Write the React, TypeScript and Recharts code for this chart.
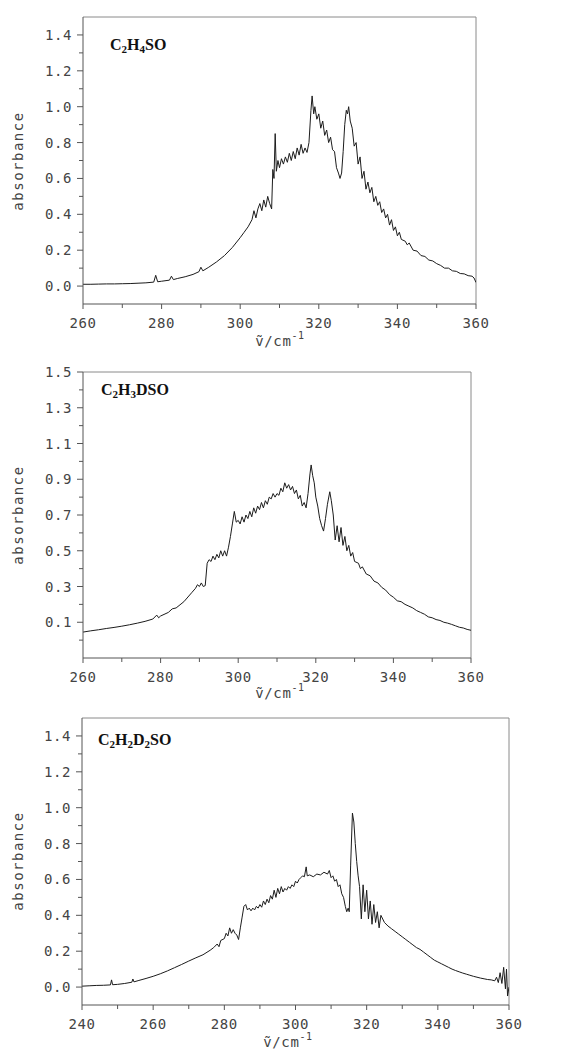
import { LineChart, Line, XAxis, YAxis, ReferenceLine } from 'recharts';

// C2H4SO spectrum
const wn1 = [
  260, 262, 264, 266, 268, 270, 272, 274, 276, 278, 278.5, 279, 280, 282, 282.5, 283, 284, 286, 288, 289.5,
  290, 290.5, 292, 294, 296, 298, 300, 301, 302, 303, 303.5, 304, 304.5, 305, 305.5, 306, 306.5, 307, 307.5, 308,
  308.3, 308.6, 308.9, 309.2, 309.6, 310, 310.5, 311, 311.5, 312, 312.5, 313, 313.5, 314, 314.5, 315, 315.5, 316, 316.5, 317,
  317.5, 318, 318.3, 318.7, 319, 319.5, 320, 320.5, 321, 321.5, 322, 322.5, 323, 323.5, 324, 324.5, 325, 325.4, 325.8, 326.2,
  326.6, 327, 327.3, 327.6, 328, 328.5, 329, 329.5, 330, 330.5, 331, 331.5, 332, 332.5, 333, 333.5, 334, 334.5, 335, 335.5,
  336, 336.5, 337, 337.5, 338, 338.5, 339, 339.5, 340, 340.5, 341, 342, 342.5, 343, 344, 345, 346, 347, 348, 349,
  350, 351, 352, 353, 354, 355, 356, 357, 358, 359, 359.5, 360,
];
const abs1 = [
  0.01, 0.01, 0.011, 0.012, 0.012, 0.013, 0.014, 0.016, 0.018, 0.022, 0.06, 0.024, 0.027, 0.033, 0.055, 0.036, 0.042, 0.052, 0.065, 0.08,
  0.105, 0.085, 0.105, 0.135, 0.17, 0.215, 0.27, 0.3, 0.33, 0.37, 0.42, 0.38, 0.43, 0.46, 0.42, 0.48, 0.44, 0.5, 0.46, 0.43,
  0.65, 0.6, 0.85, 0.64, 0.7, 0.66, 0.71, 0.68, 0.72, 0.69, 0.74, 0.7, 0.75, 0.71, 0.77, 0.73, 0.79, 0.74, 0.77, 0.745,
  0.8, 0.98, 1.06, 0.96, 1.0, 0.93, 0.96, 0.88, 0.92, 0.84, 0.87, 0.8, 0.83, 0.76, 0.75, 0.66, 0.63, 0.6, 0.63, 0.75,
  0.9, 0.98, 0.96, 1.0, 0.92, 0.88, 0.78, 0.8, 0.68, 0.72, 0.6, 0.64, 0.54, 0.58, 0.52, 0.55, 0.47, 0.5, 0.45, 0.47,
  0.41, 0.43, 0.38, 0.4, 0.34, 0.37, 0.31, 0.33, 0.28, 0.3, 0.26, 0.25, 0.23, 0.24, 0.2, 0.195, 0.17, 0.165, 0.145, 0.14,
  0.125, 0.115, 0.1, 0.1, 0.085, 0.082, 0.07, 0.068, 0.058, 0.055, 0.045, 0.02,
];

// C2H3DSO spectrum
const wn2 = [
  260, 262, 264, 266, 268, 270, 272, 274, 276, 278, 279, 279.5, 280, 282, 283, 284, 286, 288, 289, 289.5,
  290, 290.5, 291, 291.5, 292, 292.5, 293, 293.5, 294, 294.5, 295, 295.5, 296, 296.5, 297, 297.5, 298, 298.5, 299, 299.5,
  300, 300.5, 301, 301.5, 302, 302.5, 303, 303.5, 304, 304.5, 305, 305.5, 306, 306.5, 307, 307.5, 308, 308.5, 309, 309.5,
  310, 310.5, 311, 311.5, 312, 312.5, 313, 313.5, 314, 314.5, 315, 315.5, 316, 316.5, 317, 317.5, 318, 318.5, 318.8, 319.2,
  319.6, 320, 320.5, 321, 321.5, 322, 322.5, 323, 323.6, 324, 324.5, 325, 325.5, 326, 326.5, 327, 327.5, 328, 328.5, 329,
  329.5, 330, 331, 331.5, 332, 333, 334, 335, 336, 337, 338, 339, 340, 341, 342, 343, 344, 345, 346, 347,
  348, 349, 350, 351, 352, 353, 354, 355, 356, 357, 358, 359, 360,
];
const abs2 = [
  0.045, 0.052, 0.058, 0.065, 0.071, 0.078, 0.086, 0.095, 0.105, 0.118, 0.14, 0.125, 0.135, 0.155, 0.175, 0.18, 0.215, 0.265, 0.29, 0.31,
  0.3, 0.32, 0.3, 0.305, 0.43, 0.45, 0.44, 0.47, 0.45, 0.48, 0.46, 0.5, 0.47, 0.5, 0.47, 0.52, 0.58, 0.65, 0.72, 0.66,
  0.67, 0.65, 0.69, 0.66, 0.7, 0.68, 0.72, 0.69, 0.74, 0.71, 0.75, 0.73, 0.77, 0.74, 0.78, 0.76, 0.8, 0.79, 0.82, 0.8,
  0.82, 0.81, 0.85, 0.83, 0.88, 0.85, 0.87, 0.84, 0.86, 0.82, 0.84, 0.79, 0.81, 0.75, 0.77, 0.74, 0.82, 0.93, 0.98, 0.92,
  0.88, 0.8, 0.75, 0.68, 0.64, 0.61, 0.68, 0.76, 0.83, 0.78, 0.7, 0.56, 0.64, 0.55, 0.63, 0.53, 0.58, 0.5, 0.53, 0.47,
  0.49, 0.44, 0.43, 0.4, 0.41, 0.37, 0.36, 0.33, 0.32, 0.295, 0.28, 0.255, 0.24, 0.22, 0.215, 0.2, 0.19, 0.18, 0.165, 0.155,
  0.145, 0.13, 0.125, 0.115, 0.11, 0.1, 0.095, 0.088, 0.08, 0.072, 0.068, 0.06, 0.055,
];

// C2H2D2SO spectrum
const wn3 = [
  240, 242, 244, 246, 248, 248.3, 248.6, 250, 252, 254, 254.3, 254.6, 256, 258, 260, 262, 264, 266, 268, 270,
  272, 274, 276, 277, 278, 278.5, 279, 280, 280.5, 281, 281.5, 282, 282.5, 283, 283.5, 284, 284.5, 285, 285.5, 286,
  286.5, 287, 287.5, 288, 288.5, 289, 289.5, 290, 290.5, 291, 291.5, 292, 292.5, 293, 293.5, 294, 294.5, 295, 295.5, 296,
  296.5, 297, 297.5, 298, 298.5, 299, 299.5, 300, 300.5, 301, 301.5, 302, 302.5, 303, 303.3, 304, 305, 306, 307, 308,
  309, 309.5, 310, 310.5, 311, 311.5, 312, 312.5, 313, 313.5, 314, 314.4, 314.8, 315.1, 315.5, 316, 316.4, 316.8, 317.2, 317.6,
  318, 318.5, 319, 319.5, 320, 320.5, 321, 321.5, 322, 322.5, 323, 323.5, 324, 325, 326, 327, 328, 329, 330, 331,
  332, 333, 334, 335, 336, 337, 338, 339, 340, 341, 342, 343, 344, 345, 346, 347, 348, 349, 350, 351,
  352, 353, 354, 355, 356, 356.5, 357, 357.5, 358, 358.5, 359, 359.3, 359.6, 360,
];
const abs3 = [
  0.005, 0.007, 0.009, 0.01, 0.012, 0.04, 0.013, 0.015, 0.02, 0.027, 0.045, 0.029, 0.037, 0.048, 0.06, 0.074, 0.09, 0.108, 0.126, 0.145,
  0.163, 0.18, 0.205, 0.22, 0.24, 0.225, 0.26, 0.27, 0.3, 0.285, 0.33, 0.3, 0.32, 0.3, 0.29, 0.265, 0.33, 0.39, 0.45, 0.46,
  0.43, 0.44, 0.425, 0.44, 0.43, 0.45, 0.44, 0.46, 0.445, 0.48, 0.46, 0.49, 0.47, 0.51, 0.49, 0.54, 0.5, 0.55, 0.52, 0.56,
  0.53, 0.55, 0.54, 0.56, 0.55, 0.57, 0.56, 0.59, 0.58, 0.6, 0.61, 0.62, 0.615, 0.67, 0.62, 0.625, 0.615, 0.63, 0.625, 0.64,
  0.63, 0.65, 0.61, 0.62, 0.59, 0.6, 0.56, 0.57, 0.52, 0.5, 0.45, 0.42, 0.44, 0.42, 0.68, 0.97, 0.92, 0.8, 0.7, 0.62,
  0.56, 0.38, 0.57, 0.42, 0.54, 0.38, 0.48, 0.35, 0.46, 0.36, 0.42, 0.33, 0.4, 0.36, 0.34, 0.325, 0.31, 0.295, 0.28, 0.265,
  0.25, 0.235, 0.22, 0.21, 0.195, 0.18, 0.165, 0.15, 0.14, 0.13, 0.12, 0.11, 0.1, 0.092, 0.085, 0.078, 0.072, 0.066, 0.06, 0.055,
  0.05, 0.046, 0.042, 0.04, 0.035, 0.055, 0.025, 0.08, 0.02, 0.11, -0.01, 0.1, -0.05, 0,
];

const xTicks1 = [260, 270, 280, 290, 300, 310, 320, 330, 340, 350, 360];
const xLabels1 = [260, 280, 300, 320, 340, 360];
const xTicks3 = [240, 250, 260, 270, 280, 290, 300, 310, 320, 330, 340, 350, 360];
const xLabels3 = [240, 260, 280, 300, 320, 340, 360];
const yTicks = [0, 0.1, 0.2, 0.3, 0.4, 0.5, 0.6, 0.7, 0.8, 0.9, 1.0, 1.1, 1.2, 1.3, 1.4];
const yLabelsEven = [0, 0.2, 0.4, 0.6, 0.8, 1.0, 1.2, 1.4];
const yTicks2 = [0, 0.1, 0.2, 0.3, 0.4, 0.5, 0.6, 0.7, 0.8, 0.9, 1.0, 1.1, 1.2, 1.3, 1.4, 1.5];
const yLabelsOdd = [0.1, 0.3, 0.5, 0.7, 0.9, 1.1, 1.3, 1.5];

const MONO = '"DejaVu Sans Mono", monospace';
const has = (list: number[], v: number) => list.some((t) => Math.abs(t - v) < 1e-6);

const makeXTick = (labels: number[]) => (props: any) => {
  const { x, y, payload } = props;
  const major = has(labels, payload.value);
  return (
    <g>
      <line x1={x} x2={x} y1={y} y2={y + (major ? 5 : 4)} stroke="#555" />
      {major && (
        <text x={x} y={y + 24} textAnchor="middle" fontFamily={MONO} fontSize={14} letterSpacing={0.6} fill="#444">
          {payload.value}
        </text>
      )}
    </g>
  );
};

const makeYTick = (labels: number[]) => (props: any) => {
  const { x, y, payload } = props;
  const major = has(labels, payload.value);
  return (
    <g>
      <line x1={x - (major ? 6 : 4)} x2={x} y1={y} y2={y} stroke="#555" />
      {major && (
        <text x={x - 11} y={y + 5} textAnchor="end" fontFamily={MONO} fontSize={14} letterSpacing={0.6} fill="#444">
          {payload.value.toFixed(1)}
        </text>
      )}
    </g>
  );
};

const Panel = ({ top, height, margin, xs, ys, xDomain, xTicks, xLabels, yT, yLabels }: any) => {
  const data = xs.map((x: number, i: number) => ({ x, y: ys[i] }));
  return (
    <div style={{ position: 'absolute', left: 0, top }}>
      <LineChart width={585} height={height} data={data} margin={margin}>
        <XAxis
          type="number"
          dataKey="x"
          domain={xDomain}
          ticks={xTicks}
          interval={0}
          allowDataOverflow
          height={30}
          tickSize={0}
          tickMargin={0}
          tickLine={false}
          axisLine={{ stroke: '#555' }}
          tick={makeXTick(xLabels)}
        />
        <YAxis
          type="number"
          dataKey="y"
          domain={[-0.1, 1.5]}
          ticks={yT}
          interval={0}
          allowDataOverflow
          width={60}
          tickSize={0}
          tickMargin={0}
          tickLine={false}
          axisLine={{ stroke: '#555' }}
          tick={makeYTick(yLabels)}
        />
        <ReferenceLine y={1.5} stroke="#8a8a8a" />
        <ReferenceLine x={xDomain[1]} stroke="#8a8a8a" />
        <Line
          type="linear"
          dataKey="y"
          stroke="#1c1c1c"
          strokeWidth={1}
          dot={false}
          isAnimationActive={false}
        />
      </LineChart>
    </div>
  );
};

const Formula = ({ x, y, parts }: { x: number; y: number; parts: [string, string][] }) => (
  <text x={x} y={y} fontFamily='"Liberation Serif", serif' fontWeight="bold" fontSize={16} fill="#111">
    {parts.map(([main, sub], i) => (
      <tspan key={i}>
        <tspan dy={i > 0 && parts[i - 1][1] ? -3 : 0}>{main}</tspan>
        {sub && (
          <tspan fontSize={11} dy={3}>
            {sub}
          </tspan>
        )}
      </tspan>
    ))}
  </text>
);

const XLabel = ({ cx, y }: { cx: number; y: number }) => (
  <text x={cx} y={y} textAnchor="middle" fontFamily={MONO} fontSize={14} letterSpacing={0.6} fill="#444">
    ṽ/cm<tspan fontSize={10} dy={-7}>-1</tspan>
  </text>
);

const YLabel = ({ cy }: { cy: number }) => (
  <text
    x={23}
    y={cy}
    transform={`rotate(-90 23 ${cy})`}
    textAnchor="middle"
    fontFamily={MONO}
    fontSize={14}
    letterSpacing={1.5}
    fill="#444"
  >
    absorbance
  </text>
);

export default function App() {
  return (
    <div style={{ position: 'absolute', left: 0, top: 0, width: 585, height: 1050, background: '#fff' }}>
      <Panel
        top={0}
        height={350}
        margin={{ top: 17, right: 109, bottom: 16, left: 23 }}
        xs={wn1}
        ys={abs1}
        xDomain={[260, 360]}
        xTicks={xTicks1}
        xLabels={xLabels1}
        yT={yTicks}
        yLabels={yLabelsEven}
      />
      <Panel
        top={350}
        height={360}
        margin={{ top: 22, right: 114, bottom: 22, left: 23 }}
        xs={wn2}
        ys={abs2}
        xDomain={[260, 360]}
        xTicks={xTicks1}
        xLabels={xLabels1}
        yT={yTicks2}
        yLabels={yLabelsOdd}
      />
      <Panel
        top={710}
        height={340}
        margin={{ top: 8, right: 76, bottom: 15, left: 22 }}
        xs={wn3}
        ys={abs3}
        xDomain={[240, 360]}
        xTicks={xTicks3}
        xLabels={xLabels3}
        yT={yTicks}
        yLabels={yLabelsEven}
      />
      <svg
        width={585}
        height={1050}
        style={{ position: 'absolute', left: 0, top: 0, pointerEvents: 'none' }}
      >
        <Formula x={110} y={50} parts={[['C', '2'], ['H', '4'], ['SO', '']]} />
        <Formula x={101} y={395} parts={[['C', '2'], ['H', '3'], ['DSO', '']]} />
        <Formula x={98} y={745} parts={[['C', '2'], ['H', '2'], ['D', '2'], ['SO', '']]} />
        <YLabel cy={161} />
        <YLabel cy={515} />
        <YLabel cy={861} />
        <XLabel cx={280} y={346} />
        <XLabel cx={280} y={698} />
        <XLabel cx={288} y={1047} />
      </svg>
    </div>
  );
}
